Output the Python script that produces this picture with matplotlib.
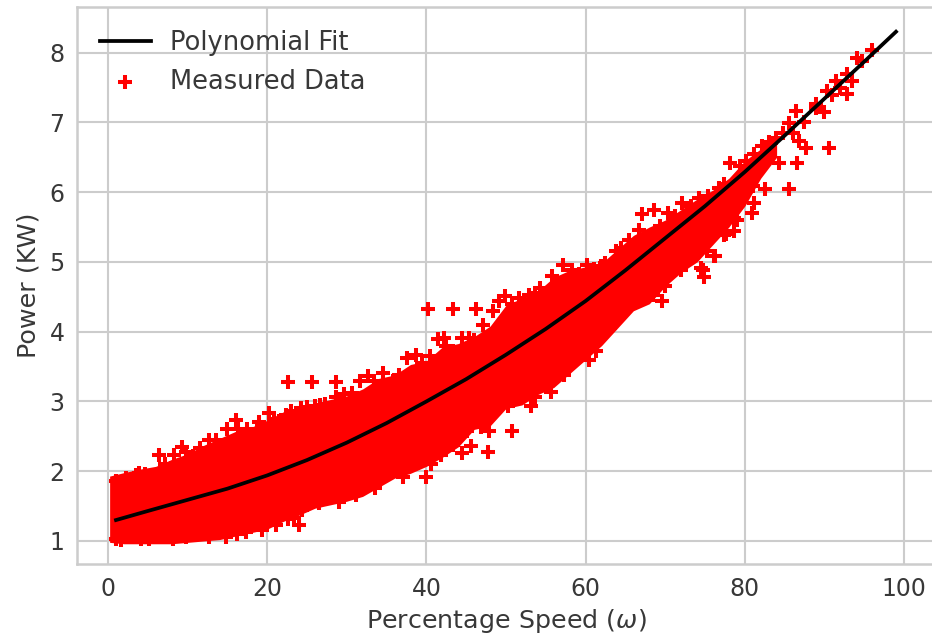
import matplotlib
matplotlib.use("Agg")
import matplotlib.pyplot as plt

W, H = 932, 634

# polynomial fit
fit_x = [1, 5, 10, 15, 20, 25, 30, 35, 40, 45, 50, 55, 60, 65, 70, 75, 80, 85, 90, 95, 99]
fit_y = [1.30, 1.43, 1.59, 1.75, 1.94, 2.16, 2.41, 2.69, 3.00, 3.32, 3.67, 4.04, 4.44,
         4.88, 5.34, 5.80, 6.29, 6.81, 7.34, 7.87, 8.30]

# the middle of the cloud is solid red, single points cannot be told apart there,
# so it is drawn as a band between the edges
band_x = [0.2, 2, 4, 6, 8, 10, 12, 14, 16, 18, 20, 22, 24, 26, 28, 30, 32, 34, 36, 38, 40, 42,
          44, 46, 48, 50, 52, 54, 56, 58, 60, 62, 64, 66, 68, 70, 72, 74, 76, 78, 80, 82, 84]
band_hi = [1.93, 1.98, 2.03, 2.07, 2.17, 2.25, 2.37, 2.47, 2.57, 2.63, 2.73, 2.85, 2.92, 2.97,
           3.03, 3.08, 3.18, 3.33, 3.38, 3.53, 3.58, 3.78, 3.83, 3.93, 4.08, 4.38, 4.48, 4.58,
           4.78, 4.88, 4.93, 4.98, 5.18, 5.38, 5.50, 5.60, 5.75, 5.90, 6.03, 6.20, 6.45, 6.62, 6.78]
band_lo = [0.98, 0.96, 0.96, 0.96, 0.96, 0.98, 1.00, 1.02, 1.07, 1.12, 1.17, 1.28, 1.37, 1.47,
           1.52, 1.57, 1.64, 1.77, 1.90, 1.97, 2.07, 2.20, 2.35, 2.60, 2.65, 2.90, 2.95, 3.10,
           3.20, 3.40, 3.60, 3.80, 4.05, 4.30, 4.40, 4.65, 4.85, 5.00, 5.25, 5.50, 5.80, 6.20, 6.50]

# measured points on the upper edge of the cloud
upper_x = [1, 2.2, 3.5, 3.9, 5.2, 6.4, 7.2, 8.3, 9.3, 9.8, 11.5, 12.7, 13.6, 15, 16.1, 16.3, 17.5,
           18.7, 19, 20.2, 21.5, 23, 24.2, 26, 27.2, 28.6, 29.7, 30.7, 31.6, 32.7, 34.5, 35.8,
           37.6, 38.7, 40.5, 41.4, 42.2, 42.4, 44.5, 45.3, 47.1, 49.1, 49.9, 51.6, 52.9, 54.3,
           55.8, 57.1, 58.3, 60.2, 61.9, 62.5, 63.8, 64.4, 66.7, 67.1, 68.6, 70.3, 72.1, 74.2,
           76.7, 78.2, 80.2, 82.2, 83.9, 85.6, 86.4, 88.9, 90.3, 91.5, 92.9, 94.1, 94.7, 96]
upper_y = [1.86, 1.90, 1.95, 1.98, 1.93, 2.23, 2.10, 2.23, 2.35, 2.28, 2.33, 2.45, 2.45, 2.60, 2.74,
           2.60, 2.60, 2.60, 2.71, 2.83, 2.72, 2.86, 2.90, 2.93, 2.96, 3.07, 3.10, 3.12, 3.29,
           3.36, 3.41, 3.30, 3.62, 3.67, 3.65, 3.89, 3.91, 3.79, 3.91, 3.91, 4.09, 4.44, 4.51,
           4.48, 4.53, 4.63, 4.80, 4.95, 4.89, 4.96, 4.94, 4.99, 5.15, 5.20, 5.46, 5.68, 5.74,
           5.70, 5.85, 5.92, 6.06, 6.42, 6.45, 6.66, 6.78, 6.99, 7.16, 7.27, 7.45, 7.59, 7.69,
           7.93, 7.88, 8.04]

# more upper edge points, between the ones above
upper2_x = [4.6, 7.9, 10.7, 14.2, 17, 20.9, 22.4, 25, 26.6, 33.4, 36.6, 39.4, 43.3, 46, 48.4, 50.8,
            53.6, 56.4, 59.2, 61, 65.4, 69.4, 71.2, 73.2, 75.4, 77.4, 79.4, 81.2, 83, 84.8]
upper2_y = [1.96, 2.05, 2.22, 2.38, 2.52, 2.75, 2.80, 2.92, 2.95, 3.30, 3.38, 3.55, 3.72, 3.88, 4.30, 4.40,
            4.55, 4.72, 4.82, 4.90, 5.32, 5.52, 5.66, 5.80, 5.95, 6.12, 6.38, 6.55, 6.72, 6.85]

# measured points on the lower edge of the cloud
lower_x = [1, 1.6, 4.2, 5.2, 6.8, 8.1, 9.8, 11, 12.7, 14.8, 16.2, 17.3, 19.4, 21.1, 22, 22.6, 23.4,
           24, 24.4, 26.5, 29, 31.1, 33.6, 34.9, 37, 40, 40.6, 41.8, 43.3, 45.1, 45.6, 44.5, 46.8,
           47.8, 47.9, 50.8, 50.2, 53.1, 53.7, 55.6, 57.3, 60.4, 61.3, 61.5, 63.1, 68.5, 69.6, 70,
           72, 74.5, 74.7, 74.9, 75.3, 76.1, 76.3, 77.4, 77.6, 78.6, 78.6, 79, 79.5, 80.9, 81.1,
           81, 82.6, 84.3, 85.5, 86.6, 86.8, 87.7, 90, 90.6, 92.9]
lower_y = [1.03, 1.02, 1.03, 1.03, 1.06, 1.03, 1.06, 1.08, 1.05, 1.05, 1.10, 1.13, 1.16, 1.23, 1.40,
           1.32, 1.33, 1.23, 1.44, 1.54, 1.56, 1.66, 1.76, 1.95, 1.92, 1.92, 2.11, 2.23, 2.38,
           2.57, 2.36, 2.26, 2.64, 2.27, 2.58, 2.58, 2.93, 2.93, 3.07, 3.14, 3.38, 3.60, 3.72,
           3.88, 4.05, 4.53, 4.44, 4.65, 4.89, 4.91, 4.89, 4.79, 5.15, 5.08, 5.08, 5.39, 5.40,
           5.44, 5.63, 5.60, 5.92, 5.70, 5.85, 6.09, 6.04, 6.42, 6.04, 6.42, 6.73, 6.63, 7.15,
           6.63, 7.41]

# lone points above the cloud and along the thin top end of the curve
lone_x = [22.6, 25.6, 28.6, 40.2, 43.4, 46.2, 86, 87.5, 89, 91, 92, 93.5]
lone_y = [3.28, 3.28, 3.28, 4.32, 4.32, 4.32, 6.85, 7.00, 7.20, 7.40, 7.50, 7.60]

x_ticks = [0, 20, 40, 60, 80, 100]
y_ticks = [1, 2, 3, 4, 5, 6, 7, 8]

plt.rcParams["font.family"] = "DejaVu Sans"
fig = plt.figure(figsize=(W / 100, H / 100), dpi=100)
ax = fig.add_axes([77 / W, (H - 564) / H, (935 - 77) / W, (564 - 7.3) / H])

text_col = ".22"
ax.grid(True, color=".8", lw=1.5)
ax.set_axisbelow(True)
for side in ax.spines:
    ax.spines[side].set_color(".8")
    ax.spines[side].set_linewidth(1.8)

ax.fill_between(band_x, band_lo, band_hi, color="red", lw=0, zorder=2)
marks = dict(c="red", marker="+", s=100, linewidths=2.9, zorder=3)
pts = ax.scatter(upper_x, upper_y, label="Measured Data", **marks)
ax.scatter(upper2_x, upper2_y, **marks)
ax.scatter(lower_x, lower_y, **marks)
ax.scatter(lone_x, lone_y, **marks)
line, = ax.plot(fit_x, fit_y, color="black", lw=2.7, label="Polynomial Fit", zorder=4)

ax.set_xlim(-3.9, 103.9)
ax.set_ylim(0.67, 8.65)
ax.set_xticks(x_ticks)
ax.set_yticks(y_ticks)
ax.tick_params(length=0, labelsize=17, labelcolor=text_col, pad=9)
ax.set_xlabel(r"Percentage Speed ($\omega$)", fontsize=18.3, color=text_col, labelpad=5)
ax.set_ylabel("Power (KW)", fontsize=18.3, color=text_col, labelpad=6)

ax.legend(handles=[line, pts], loc="upper left", frameon=False, fontsize=18.5,
          labelcolor=text_col, bbox_to_anchor=(0.0056, 0.991), labelspacing=0.5,
          handlelength=2.0, handletextpad=0.74, borderaxespad=0.3)

fig.savefig("out.png", dpi=100)
